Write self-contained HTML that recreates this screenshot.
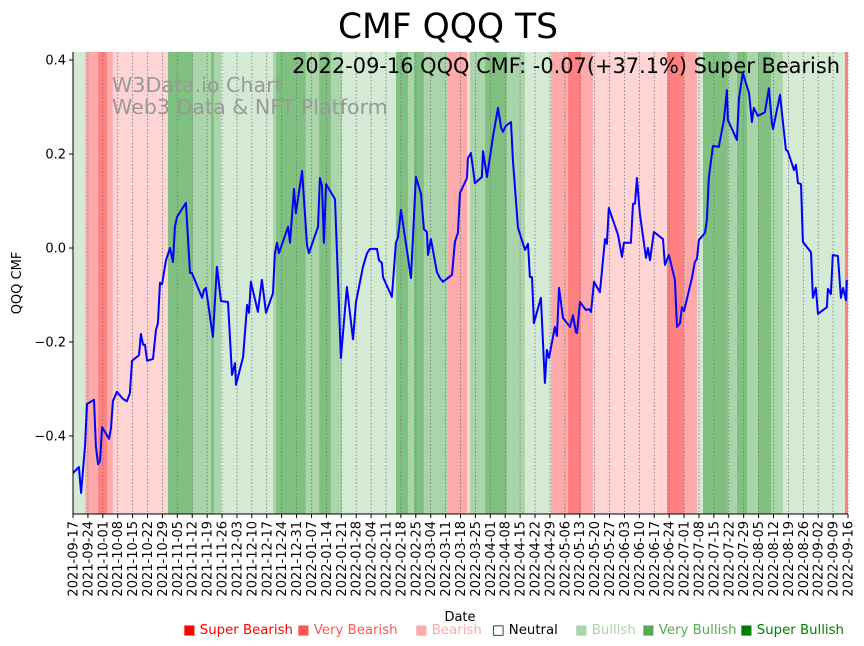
<!DOCTYPE html>
<html><head><meta charset="utf-8"><style>
html,body{margin:0;padding:0;background:#fff;}
svg{display:block;font-family:"DejaVu Sans","Liberation Sans",sans-serif;}
</style></head><body>
<svg id="chart" width="864" height="646" viewBox="0 0 864 646" xmlns="http://www.w3.org/2000/svg">
<text x="448" y="38" font-size="34.5" text-anchor="middle" fill="#000">CMF QQQ TS</text>
<g id="bands"></g>
<g id="grid"></g>
<text x="112" y="92" font-size="20.6" fill="#999">W3Data.io Chart</text>
<text x="112" y="114" font-size="20.6" fill="#999">Web3 Data &amp; NFT Platform</text>
<text x="840" y="73" font-size="20.9" text-anchor="end" fill="#000">2022-09-16 QQQ CMF: -0.07(+37.1%) Super Bearish</text>
<path id="line" fill="none" stroke="#0000ff" stroke-width="2" stroke-linejoin="round"/>
<g id="axes"></g>
<text x="0" y="0" font-size="13" text-anchor="middle" transform="translate(21,283) rotate(-90)">QQQ CMF</text>
<text x="460" y="621" font-size="13" text-anchor="middle">Date</text>
<g font-size="13.3">
<text x="183" y="634" fill="#ff0000">■ Super Bearish</text>
<text x="297" y="634" fill="#ff5555">■ Very Bearish</text>
<text x="415" y="634" fill="#ffaaaa">■ Bearish</text>
<text x="492" y="634" fill="#000">□ Neutral</text>
<text x="575" y="634" fill="#aad4aa">■ Bullish</text>
<text x="642" y="634" fill="#55aa55">■ Very Bullish</text>
<text x="740" y="634" fill="#008000">■ Super Bullish</text>
</g>
</svg>
<script>
const days=[0,2.8,3.8,5.7,6.6,9.9,10.8,11.8,12.7,13.7,17.0,17.9,18.8,20.7,23.5,25.4,26.8,27.8,31.1,32.0,33.0,33.9,34.9,37.7,39.1,40.0,41.0,41.9,43.8,45.7,47.1,48.0,49.0,53.2,55.1,56.0,58.9,60.8,61.7,62.6,65.9,67.8,69.7,73.0,74.9,76.3,76.8,80.1,82.0,82.9,83.8,87.1,89.0,90.9,94.2,95.1,96.1,97.0,101.3,102.2,104.1,105.0,107.9,110.2,111.1,115.4,116.3,117.3,118.2,119.2,123.4,126.2,129.0,131.9,133.3,136.6,138.5,139.9,143.2,144.1,145.5,146.0,150.2,152.1,153.1,154.5,159.2,161.5,163.9,165.3,166.7,167.2,168.6,171.4,172.8,174.3,178.5,179.9,181.3,182.3,185.6,186.0,187.4,189.3,192.6,193.1,195.0,197.8,200.2,201.6,202.5,203.9,206.3,207.2,209.6,212.9,214.3,215.2,216.2,217.1,220.4,222.3,223.2,224.2,227.0,228.0,228.9,230.8,234.1,235.5,236.9,237.4,238.8,241.6,243.0,244.0,245.4,248.2,250.6,251.5,252.4,256.7,258.6,259.5,262.8,263.8,264.7,265.6,267.0,269.9,270.8,271.8,273.6,277.9,278.8,280.7,283.5,284.5,285.9,286.8,287.8,291.5,292.9,293.9,294.8,297.7,298.6,299.5,301.4,304.2,306.6,308.0,308.5,312.7,313.7,315.5,318.4,319.8,320.7,322.6,325.9,327.8,329.2,329.7,333.0,335.8,336.7,339.6,340.5,341.5,342.9,343.8,347.6,348.5,349.9,350.9,355.1,355.6,357.0,357.9,360.3,361.7,362.7,364.1,364.5];
const cmf=[-0.479,-0.466,-0.521,-0.419,-0.332,-0.323,-0.423,-0.460,-0.453,-0.381,-0.406,-0.383,-0.326,-0.306,-0.321,-0.326,-0.309,-0.240,-0.228,-0.183,-0.206,-0.206,-0.240,-0.236,-0.174,-0.160,-0.074,-0.077,-0.026,0.000,-0.030,0.045,0.066,0.096,-0.053,-0.053,-0.085,-0.106,-0.089,-0.085,-0.189,-0.040,-0.113,-0.115,-0.270,-0.245,-0.291,-0.232,-0.121,-0.138,-0.072,-0.136,-0.068,-0.138,-0.096,-0.011,0.011,-0.011,0.045,0.011,0.126,0.074,0.164,0.006,-0.011,0.045,0.149,0.132,0.011,0.136,0.104,-0.234,-0.083,-0.194,-0.115,-0.040,-0.011,-0.002,-0.002,-0.026,-0.032,-0.062,-0.104,0.011,0.023,0.081,-0.064,0.151,0.115,0.040,0.034,-0.015,0.019,-0.051,-0.064,-0.072,-0.057,0.013,0.032,0.117,0.149,0.191,0.202,0.138,0.151,0.206,0.151,0.236,0.298,0.257,0.247,0.260,0.268,0.187,0.043,-0.004,0.009,-0.062,-0.062,-0.160,-0.106,-0.287,-0.217,-0.234,-0.168,-0.187,-0.085,-0.149,-0.168,-0.143,-0.179,-0.181,-0.115,-0.132,-0.130,-0.136,-0.072,-0.094,0.019,0.009,0.085,0.028,-0.019,0.011,0.011,0.094,0.094,0.149,0.074,-0.021,0.000,-0.026,0.034,0.019,-0.036,-0.015,-0.068,-0.168,-0.160,-0.126,-0.134,-0.064,-0.030,-0.023,0.017,0.032,0.060,0.149,0.217,0.215,0.272,0.336,0.272,0.230,0.319,0.372,0.330,0.268,0.298,0.281,0.289,0.340,0.266,0.253,0.326,0.209,0.206,0.166,0.177,0.138,0.136,0.013,-0.009,-0.106,-0.085,-0.140,-0.126,-0.087,-0.098,-0.015,-0.017,-0.106,-0.085,-0.111,-0.068];
const bandStart=[0,5.7,11.8,16.0,18.8,44.7,56.5,65.0,66.4,69.7,94.2,95.6,109.7,115.9,121.5,126.7,152.1,157.8,160.6,165.3,176.6,185.6,187.0,194.1,204.4,212.9,225.1,233.1,239.3,244.9,279.8,287.8,293.9,296.7,308.5,312.7,317.5,322.6,328.8,334.4,363.6];
const bandLevel=[1,-2,-3,-2,-1,3,2,3,2,1,2,3,2,3,2,1,3,2,3,2,-2,-1,2,3,2,1,-2,-3,-2,-1,-3,-2,1,3,2,3,2,3,2,1,-3];
const yTicks=[0.4,0.2,0.0,-0.2,-0.4];
const yTickLabels=["0.4","0.2","0.0","\u22120.2","\u22120.4"];
const startDate="2021-09-17";
const totalDays=364;

const L=73,R=848,T=52,B=514;
const yMax=0.417,yMin=-0.566;
const xs=d=>L+d*(R-L)/totalDays;
const xd=d=>L+d*2.123;
const ys=v=>T+(yMax-v)*(B-T)/(yMax-yMin);
const NS="http://www.w3.org/2000/svg";
const colors={"3":"#80c080","2":"#aad4aa","1":"#d4ead4","-1":"#ffd4d4","-2":"#ffaaaa","-3":"#ff8080"};
const bands=document.getElementById('bands');
for(let i=0;i<bandStart.length;i++){
  const end=i+1<bandStart.length?bandStart[i+1]:totalDays+1;
  const r=document.createElementNS(NS,'rect');
  const x0=Math.max(L,xd(bandStart[i])),x1=Math.min(R,xd(end));
  r.setAttribute('x',x0);r.setAttribute('y',T);
  r.setAttribute('width',Math.max(0,x1-x0));r.setAttribute('height',B-T);
  r.setAttribute('fill',colors[bandLevel[i]]);
  
  
  bands.appendChild(r);
}
const grid=document.getElementById('grid');
const axes=document.getElementById('axes');
const base=new Date(startDate+"T00:00:00Z");
for(let w=0;w*7<=totalDays;w++){
  const d=w*7,x=xs(d);
  const gl=document.createElementNS(NS,'line');
  gl.setAttribute('x1',x);gl.setAttribute('x2',x);gl.setAttribute('y1',T);gl.setAttribute('y2',B);
  gl.setAttribute('stroke','#777');gl.setAttribute('stroke-width','0.8');gl.setAttribute('stroke-dasharray','1.5,2');
  
  
  grid.appendChild(gl);
  const tk=document.createElementNS(NS,'line');
  tk.setAttribute('x1',x);tk.setAttribute('x2',x);tk.setAttribute('y1',B);tk.setAttribute('y2',B+4);
  tk.setAttribute('stroke','#000');
  
  
  axes.appendChild(tk);
  const dt=new Date(base.getTime()+d*86400000);
  const t=document.createElementNS(NS,'text');
  t.textContent=dt.toISOString().slice(0,10);
  t.setAttribute('font-size','13');t.setAttribute('text-anchor','end');
  t.setAttribute('transform',`translate(${x+4.5},${B+7}) rotate(-90)`);
  
  
  axes.appendChild(t);
}
yTicks.forEach((v,i)=>{
  const y=ys(v);
  const tk=document.createElementNS(NS,'line');
  tk.setAttribute('x1',L-4);tk.setAttribute('x2',L);tk.setAttribute('y1',y);tk.setAttribute('y2',y);
  tk.setAttribute('stroke','#000');
  
  
  axes.appendChild(tk);
  const t=document.createElementNS(NS,'text');
  t.textContent=yTickLabels[i];
  t.setAttribute('x',L-7);t.setAttribute('y',y+4.5);
  t.setAttribute('font-size','13');t.setAttribute('text-anchor','end');
  
  
  axes.appendChild(t);
});
const sp=document.createElementNS(NS,'path');
sp.setAttribute('d',`M${L},${T}V${B}H${R}`);
sp.setAttribute('stroke','#000');sp.setAttribute('fill','none');sp.setAttribute('stroke-width','1');


axes.appendChild(sp);
document.getElementById('line').setAttribute('d',days.map((d,i)=>(i?'L':'M')+Math.min(R,xd(d)).toFixed(1)+','+ys(cmf[i]).toFixed(1)).join(''));
</script>
</body></html>
